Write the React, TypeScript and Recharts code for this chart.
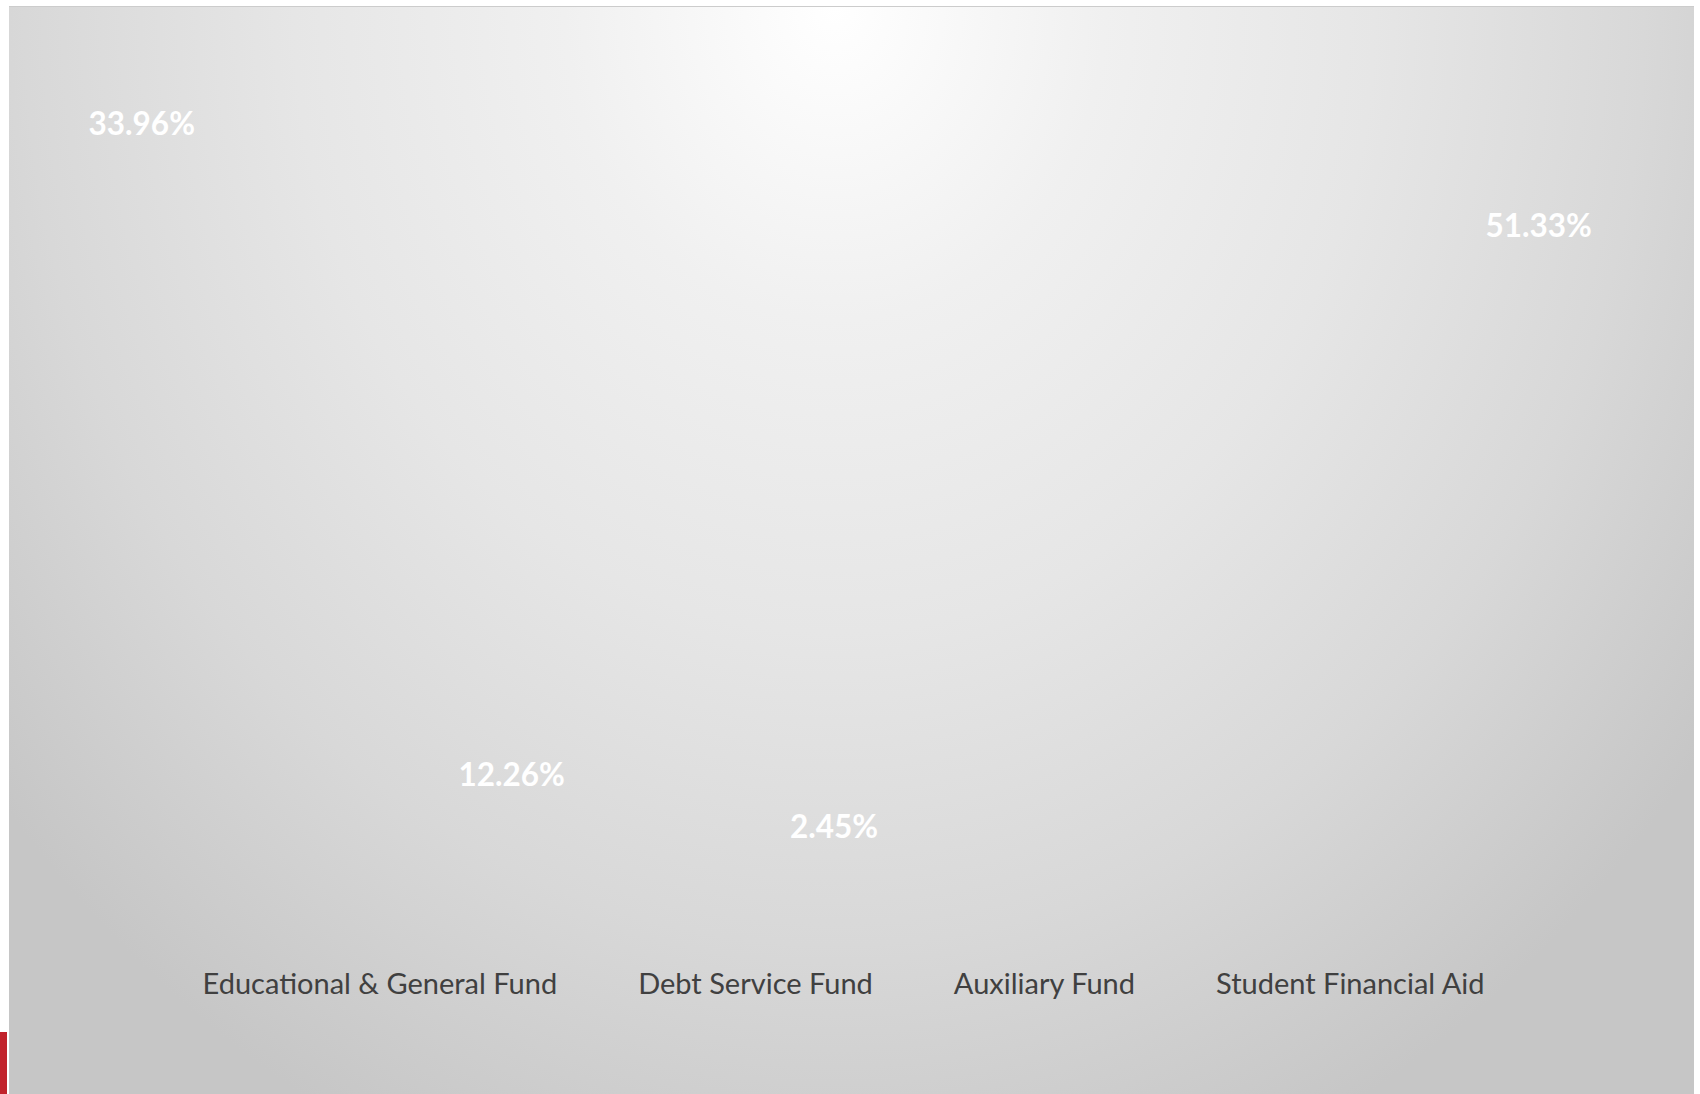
import { PieChart, Pie, Cell, Legend } from "recharts";

const funds = [
  "Educational & General Fund",
  "Debt Service Fund",
  "Auxiliary Fund",
  "Student Financial Aid",
];
const shares = [33.96, 12.26, 2.45, 51.33];

const data = funds.map((name, i) => ({ name, value: shares[i] }));

const RAD = Math.PI / 180;
const LABEL_RX = 721;
const LABEL_RY = 531;

function renderLabel(props: any) {
  const { cx, cy, midAngle, value } = props;
  const x = cx + LABEL_RX * Math.cos(-midAngle * RAD);
  const y = cy + LABEL_RY * Math.sin(-midAngle * RAD);
  return (
    <text
      x={x}
      y={y}
      fill="#ffffff"
      textAnchor="middle"
      dominantBaseline="central"
      style={{ fontFamily: "Lato", fontWeight: 700, fontSize: 31.5 }}
    >
      {value.toFixed(2)}%
    </text>
  );
}

// legend keeps the data order (recharts sorts its payload by name)
function FundLegend() {
  return (
    <div
      style={{
        display: "flex",
        justifyContent: "center",
        paddingRight: 16,
        fontFamily: "Lato",
        fontSize: 29,
        lineHeight: 1,
        color: "#404040",
        whiteSpace: "nowrap",
      }}
    >
      {data.map((d, i) => (
        <span key={d.name} style={{ marginLeft: i === 0 ? 0 : 81 }}>
          {d.name}
        </span>
      ))}
    </div>
  );
}

export default function App() {
  return (
    <div
      style={{
        position: "absolute",
        left: 0,
        top: 0,
        width: 1700,
        height: 1094,
        background: "#ffffff",
        overflow: "hidden",
      }}
    >
      <div
        style={{
          position: "absolute",
          left: 0,
          top: 1032,
          width: 7,
          height: 62,
          background: "#c1222b",
        }}
      />
      <div
        style={{
          position: "absolute",
          left: 9,
          top: 6,
          width: 1685,
          height: 1088,
          borderTop: "1px solid #cccccc",
          background:
            "radial-gradient(ellipse 1080px 1250px at 49% 0%, #ffffff 0%, #f0f0f0 25%, #e6e6e6 50%, #d8d8d8 75%, #c6c6c6 100%)",
        }}
      >
        <PieChart width={1685} height={1088}>
          <Pie
            data={data}
            dataKey="value"
            nameKey="name"
            cx={810}
            cy={283}
            outerRadius={300}
            startAngle={100}
            endAngle={460}
            stroke="none"
            labelLine={false}
            label={renderLabel}
            isAnimationActive={false}
          >
            {data.map((d) => (
              <Cell key={d.name} fill="transparent" />
            ))}
          </Pie>
          <Legend
            content={<FundLegend />}
            wrapperStyle={{ top: 961, left: 0, width: 1685 }}
          />
        </PieChart>
      </div>
    </div>
  );
}
